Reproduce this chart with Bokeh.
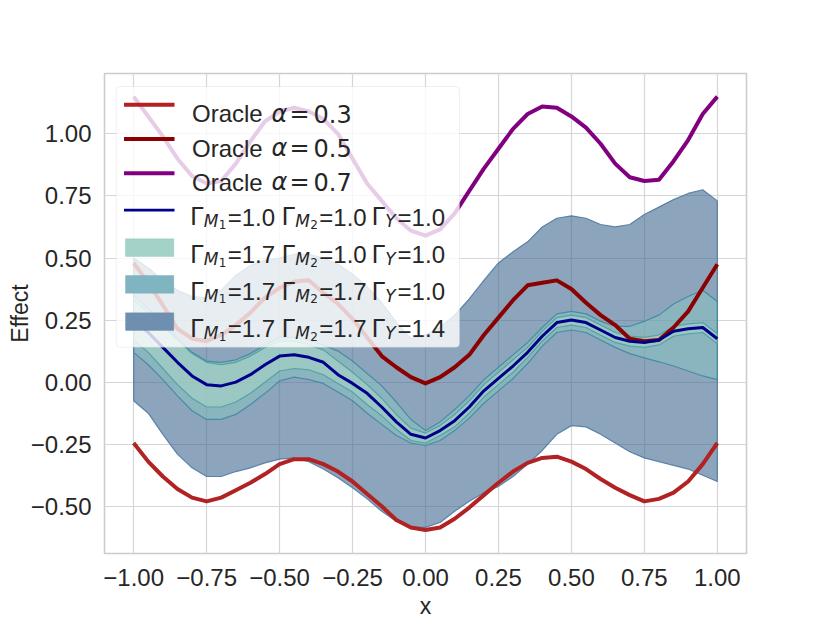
from bokeh.plotting import figure
from bokeh.models import Range1d, FixedTicker, BoxAnnotation, Label
from bokeh.embed import file_html
from bokeh.resources import INLINE

# ---------------- data ----------------
x_vals = [-1.00, -0.95, -0.90, -0.85, -0.80, -0.75, -0.70, -0.65, -0.60, -0.55,
          -0.50, -0.45, -0.40, -0.35, -0.30, -0.25, -0.20, -0.15, -0.10, -0.05,
          0.00, 0.05, 0.10, 0.15, 0.20, 0.25, 0.30, 0.35, 0.40, 0.45,
          0.50, 0.55, 0.60, 0.65, 0.70, 0.75, 0.80, 0.85, 0.90, 0.95, 1.00]

oracle_03 = [-0.245, -0.32, -0.38, -0.43, -0.465, -0.48, -0.465, -0.435, -0.405, -0.37,
             -0.33, -0.31, -0.31, -0.33, -0.36, -0.40, -0.45, -0.50, -0.555, -0.585,
             -0.595, -0.585, -0.55, -0.505, -0.455, -0.405, -0.36, -0.325, -0.305, -0.30,
             -0.32, -0.35, -0.39, -0.425, -0.455, -0.48, -0.47, -0.445, -0.40, -0.33, -0.245]

oracle_05 = [0.48, 0.40, 0.31, 0.215, 0.175, 0.165, 0.19, 0.23, 0.28, 0.34,
             0.38, 0.405, 0.41, 0.36, 0.315, 0.255, 0.18, 0.105, 0.06, 0.02,
             -0.005, 0.02, 0.06, 0.11, 0.19, 0.26, 0.33, 0.39, 0.40, 0.41,
             0.375, 0.32, 0.27, 0.23, 0.175, 0.165, 0.17, 0.22, 0.285, 0.38, 0.475]

oracle_07 = [1.15, 1.07, 0.99, 0.90, 0.83, 0.80, 0.81, 0.88, 0.97, 1.05,
             1.09, 1.105, 1.09, 1.06, 1.00, 0.90, 0.80, 0.73, 0.66, 0.61,
             0.59, 0.615, 0.68, 0.77, 0.86, 0.94, 1.02, 1.08, 1.11, 1.105,
             1.07, 1.025, 0.96, 0.88, 0.825, 0.81, 0.815, 0.89, 0.975, 1.08, 1.15]

gamma_base = [0.25, 0.20, 0.14, 0.08, 0.025, -0.01, -0.015, 0.0, 0.03, 0.07,
              0.105, 0.11, 0.10, 0.08, 0.03, -0.005, -0.045, -0.10, -0.16, -0.21,
              -0.225, -0.195, -0.155, -0.10, -0.035, 0.015, 0.065, 0.12, 0.185, 0.24,
              0.25, 0.24, 0.21, 0.18, 0.165, 0.16, 0.17, 0.205, 0.215, 0.22, 0.175]

band_a_upper = [0.33, 0.28, 0.225, 0.17, 0.115, 0.08, 0.07, 0.08, 0.105, 0.14,
                0.165, 0.165, 0.15, 0.13, 0.085, 0.04, -0.01, -0.065, -0.13, -0.185,
                -0.205, -0.175, -0.13, -0.075, -0.01, 0.04, 0.09, 0.14, 0.205, 0.26,
                0.27, 0.26, 0.23, 0.20, 0.185, 0.18, 0.19, 0.225, 0.235, 0.24, 0.195]
band_a_lower = [0.17, 0.12, 0.055, -0.01, -0.065, -0.10, -0.10, -0.08, -0.045, 0.0,
                0.045, 0.055, 0.05, 0.03, -0.005, -0.04, -0.09, -0.135, -0.19, -0.235,
                -0.245, -0.215, -0.18, -0.125, -0.06, -0.01, 0.04, 0.10, 0.165, 0.22,
                0.23, 0.22, 0.19, 0.16, 0.145, 0.14, 0.15, 0.185, 0.195, 0.20, 0.155]

band_b_upper = [0.35, 0.295, 0.235, 0.175, 0.12, 0.085, 0.08, 0.09, 0.115, 0.15,
                0.18, 0.18, 0.17, 0.15, 0.125, 0.085, 0.035, -0.015, -0.08, -0.15,
                -0.195, -0.16, -0.11, -0.055, 0.01, 0.06, 0.11, 0.16, 0.22, 0.275,
                0.285, 0.275, 0.245, 0.225, 0.225, 0.245, 0.27, 0.315, 0.345, 0.37, 0.325]
band_b_lower = [0.12, 0.07, 0.01, -0.055, -0.115, -0.15, -0.15, -0.13, -0.09, -0.045,
                0.005, 0.02, 0.01, -0.005, -0.04, -0.075, -0.125, -0.17, -0.215, -0.245,
                -0.255, -0.235, -0.195, -0.145, -0.085, -0.035, 0.015, 0.075, 0.145, 0.20,
                0.21, 0.20, 0.17, 0.14, 0.115, 0.098, 0.082, 0.065, 0.045, 0.025, 0.01]

band_c_upper = [0.50, 0.46, 0.41, 0.37, 0.345, 0.34, 0.37, 0.43, 0.47, 0.49,
                0.50, 0.515, 0.515, 0.50, 0.475, 0.435, 0.385, 0.32, 0.24, 0.175,
                0.19, 0.22, 0.27, 0.335, 0.41, 0.48, 0.525, 0.565, 0.625, 0.66,
                0.67, 0.66, 0.635, 0.625, 0.635, 0.675, 0.705, 0.735, 0.76, 0.775, 0.73]
band_c_lower = [-0.075, -0.125, -0.21, -0.29, -0.345, -0.38, -0.38, -0.36, -0.345, -0.325,
                -0.31, -0.305, -0.32, -0.35, -0.385, -0.425, -0.47, -0.52, -0.56, -0.585,
                -0.585, -0.565, -0.52, -0.48, -0.445, -0.42, -0.38, -0.33, -0.275, -0.21,
                -0.175, -0.18, -0.21, -0.245, -0.28, -0.305, -0.32, -0.335, -0.35, -0.375, -0.40]

oracle_alphas = ["0.3", "0.5", "0.7"]
gamma_m1 = ["1.0", "1.7", "1.7", "1.7"]
gamma_m2 = ["1.0", "1.0", "1.7", "1.7"]
gamma_y = ["1.0", "1.0", "1.0", "1.4"]

x_ticks = [-1.0, -0.75, -0.5, -0.25, 0.0, 0.25, 0.5, 0.75, 1.0]
x_tick_labels = ["\u22121.00", "\u22120.75", "\u22120.50", "\u22120.25", "0.00",
                 "0.25", "0.50", "0.75", "1.00"]
y_ticks = [-0.5, -0.25, 0.0, 0.25, 0.5, 0.75, 1.0]
y_tick_labels = ["\u22120.50", "\u22120.25", "0.00", "0.25", "0.50", "0.75", "1.00"]

# ---------------- styling ----------------
ORACLE_COLORS = ["#b22222", "#8b0000", "#800080"]
BASE_COLOR = "#00008b"
BAND_FILL = ["#aedbc9", "#88c5c1", "#3f6991"]
BAND_ALPHA = [0.5, 0.5, 0.6]
BAND_EDGE = ["#4f9ea0", "#3f8a9e", "#4f7aa3"]
LEG_PATCH = ["#a3d2c8", "#7fb4c1", "#6f8fb1"]
LEG_EDGE = ["#7cbdb3", "#5f9fb0", "#5a7ea3"]
TEXT_COLOR = "#262626"
SANS = "Liberation Sans"
MATH = "DejaVu Sans"

FRAME_LEFT, FRAME_TOP, FRAME_W, FRAME_H = 104, 73, 642, 480
PAGE_W, PAGE_H = 830, 623

p = figure(frame_width=FRAME_W, frame_height=FRAME_H,
           min_border_left=FRAME_LEFT, min_border_top=FRAME_TOP,
           min_border_right=PAGE_W - FRAME_LEFT - FRAME_W - 2,
           min_border_bottom=PAGE_H - FRAME_TOP - FRAME_H - 2,
           x_range=Range1d(-1.1, 1.1), y_range=Range1d(-0.69, 1.243),
           output_backend="svg", toolbar_location=None)

p.background_fill_color = "white"
p.border_fill_color = "white"
p.outline_line_color = "#cccccc"
p.outline_line_width = 1.6
p.grid.grid_line_color = "#d6d6d6"
p.grid.grid_line_width = 1.2

p.xaxis.ticker = FixedTicker(ticks=x_ticks)
p.yaxis.ticker = FixedTicker(ticks=y_ticks)
p.xaxis.major_label_overrides = {t: s for t, s in zip(x_ticks, x_tick_labels)}
p.yaxis.major_label_overrides = {t: s for t, s in zip(y_ticks, y_tick_labels)}
for ax in (p.xaxis[0], p.yaxis[0]):
    ax.axis_line_color = None
    ax.major_tick_line_color = None
    ax.minor_tick_line_color = None
    ax.major_tick_out = 0
    ax.major_tick_in = 0
    ax.major_label_text_font = SANS
    ax.major_label_text_font_size = "24px"
    ax.major_label_text_color = TEXT_COLOR
    ax.axis_label_text_font = SANS
    ax.axis_label_text_font_size = "23px"
    ax.axis_label_text_font_style = "normal"
    ax.axis_label_text_color = TEXT_COLOR
p.xaxis.major_label_standoff = 15
p.yaxis.major_label_standoff = 13
p.xaxis.axis_label = "x"
p.yaxis.axis_label = "Effect"
p.xaxis.axis_label_standoff = 4
p.yaxis.axis_label_standoff = -5

# ---------------- bands ----------------
bands = [(band_c_lower, band_c_upper, 2), (band_b_lower, band_b_upper, 1),
         (band_a_lower, band_a_upper, 0)]
for lower, upper, k in bands:
    p.patch(x_vals + x_vals[::-1], upper + lower[::-1],
            fill_color=BAND_FILL[k], fill_alpha=BAND_ALPHA[k],
            line_color=BAND_EDGE[k], line_width=1.2, line_alpha=0.9)

# ---------------- lines ----------------
p.line(x_vals, oracle_03, line_color=ORACLE_COLORS[0], line_width=4, line_join="round")
p.line(x_vals, oracle_05, line_color=ORACLE_COLORS[1], line_width=4, line_join="round")
p.line(x_vals, oracle_07, line_color=ORACLE_COLORS[2], line_width=4, line_join="round")
p.line(x_vals, gamma_base, line_color=BASE_COLOR, line_width=3, line_join="round")

# ---------------- custom legend ----------------
def sx(px):
    return px - FRAME_LEFT


def sy(py):
    return FRAME_TOP + FRAME_H - py


def box(l, r, t, b, **kw):
    p.add_layout(BoxAnnotation(left=sx(l), right=sx(r), top=sy(t), bottom=sy(b),
                               left_units="screen", right_units="screen",
                               top_units="screen", bottom_units="screen", **kw))


def text(px, py, s, font=SANS, size=24, style="normal"):
    p.add_layout(Label(x=sx(px), y=sy(py), x_units="screen", y_units="screen", text=s,
                       text_font=font, text_font_size=f"{size}px", text_font_style=style,
                       text_color=TEXT_COLOR, text_align="left",
                       text_baseline="alphabetic"))


box(115.7, 459, 86, 346.7, fill_color="white", fill_alpha=0.8,
    line_color="#cccccc", line_width=1, border_radius=4)

oracle_baselines = [113.3, 147.5, 181.7]
for i, a in enumerate(oracle_alphas):
    b = oracle_baselines[i]
    cy = b - 9
    box(123.5, 174, cy - 2, cy + 2, fill_color=ORACLE_COLORS[i], fill_alpha=1.0,
        line_color=None)
    text(191.5, b, "Oracle")
    text(271.0, b, "\u03b1", font=MATH, style="italic")
    text(289.0, b, "=", font=MATH)
    text(313.0, b, a, font=MATH)

gamma_baselines = [216.7, 254.3, 291.0, 328.3]
for j in range(4):
    b = gamma_baselines[j]
    if j == 0:
        cy = b - 7
        box(123.5, 174, cy - 1.4, cy + 1.4, fill_color=BASE_COLOR, fill_alpha=1.0,
            line_color=None)
    else:
        k = j - 1
        box(125, 173.3, b - 16, b + 1.7, fill_color=LEG_PATCH[k], fill_alpha=1.0,
            line_color=LEG_EDGE[k], line_width=1)
    for gx, sub, val, sub2 in [(189.4, "M", gamma_m1[j], "1"),
                               (281.0, "M", gamma_m2[j], "2"),
                               (371.0, "Y", gamma_y[j], None)]:
        text(gx, b, "\u0393", font=MATH)
        text(gx + 13.8, b + 4, sub, font=MATH, size=17, style="italic")
        if sub2 is not None:
            text(gx + 28.8, b + 7.4, sub2, font=MATH, size=12)
            text(gx + 37.8, b, "=" + val)
        else:
            text(gx + 26.1, b, "=" + val)

open("out.html", "w").write(file_html(p, INLINE))
